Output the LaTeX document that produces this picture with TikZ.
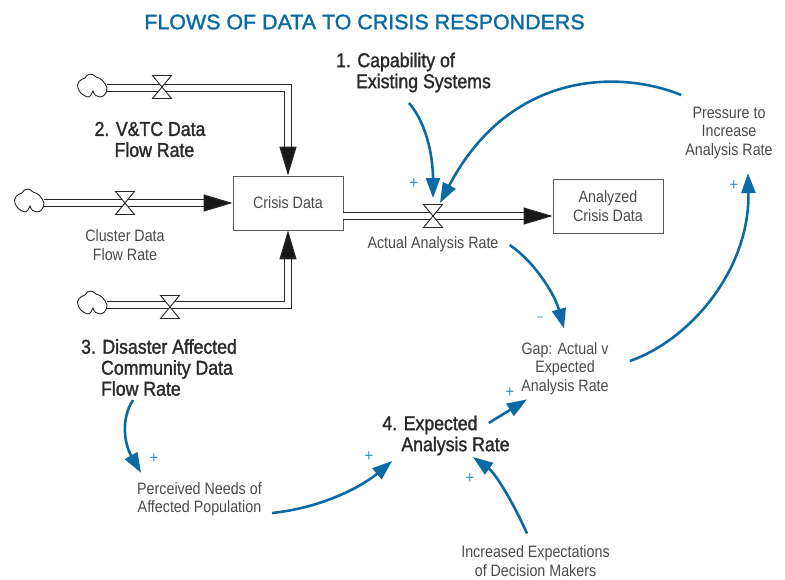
\documentclass[tikz,border=0pt]{standalone}
\usepackage{fontspec}
\setmainfont{Liberation Sans}
\newfontfamily\lightfont[FakeStretch=0.865]{Liberation Sans}
\newfontfamily\headfont[FakeStretch=0.885,FakeBold=1.5]{Liberation Sans}
\newfontfamily\titlefont[FakeStretch=1.02,FakeBold=1.5]{Liberation Sans}
\usepackage{xcolor}
\usetikzlibrary{arrows.meta, positioning}
\definecolor{linkblue}{HTML}{0A6AA1}
\definecolor{plusblue}{HTML}{3F8FBF}
\definecolor{softgray}{HTML}{4A4A4C}
\definecolor{headgray}{HTML}{2A2A2C}

\begin{document}
\begin{tikzpicture}[x=1pt, y=-1pt,
        label/.style={align=center, inner sep=0pt, text=softgray, font=\lightfont\fontsize{16.5}{18.5}\selectfont},
        head/.style={align=left, inner sep=0pt, text=headgray, font=\headfont\fontsize{20}{21}\selectfont},
        stock/.style={draw=black!65, line width=0.8pt, align=center, inner sep=0pt, text=softgray, font=\lightfont\fontsize{16.5}{18.5}\selectfont},
        sign/.style={inner sep=0pt, text=plusblue, font=\lightfont\fontsize{17}{17}\selectfont},
        pipe/.style={draw=black!85, line width=1.1pt, double=white, double distance=5.5pt, -{Triangle[length=29pt, width=17pt, fill=black!90]}},
        link/.style={draw=linkblue, line width=2.6pt, -{Triangle[length=20pt, width=14pt]}},
        valve/.pic={\draw[black!85, fill=white, line width=0.9pt] (-9.5, -11.5) -- (9.5, -11.5) -- (-9.5, 11.5) -- (9.5, 11.5) -- cycle;},
        puff/.pic={\draw[black!85, fill=white, line width=0.9pt] (0, 0)
            .. controls (-2, -6) and (-6, -10) .. (-11, -11)
            .. controls (-14, -15) and (-20, -15) .. (-22, -10)
            .. controls (-27, -9) and (-31, -4) .. (-29, 0)
            .. controls (-28, 4) and (-24, 8) .. (-19, 9)
            .. controls (-17, 9) and (-15, 6) .. (-14, 3)
            .. controls (-13, 7) and (-10, 9) .. (-7, 9)
            .. controls (-4, 9) and (0, 6) .. (0, 0) -- cycle;}]
    \useasboundingbox (0, 0) rectangle (785, 579);

    \node[inner sep=0pt, text=linkblue, font=\titlefont\fontsize{21}{24}\selectfont] (title) at (364.5, 22) {FLOWS OF DATA TO CRISIS RESPONDERS};

    \node[stock, minimum width=110pt, minimum height=54pt] (crisis) at (288, 203) {Crisis Data};
    \node[stock, minimum width=110pt, minimum height=54pt] (analyzed) at (608, 206) {Analyzed\\Crisis Data};

    \coordinate (puffVtc) at (107, 88);
    \coordinate (puffCluster) at (44, 203);
    \coordinate (puffCommunity) at (107, 305);
    \coordinate (valveVtc) at (162, 87);
    \coordinate (valveCluster) at (125, 203);
    \coordinate (valveCommunity) at (170, 307);
    \coordinate (valveAnalysis) at (433, 216);

    \draw[pipe] (puffVtc) -| (crisis.north);
    \draw[pipe] (puffCluster) -- (crisis.west);
    \draw[pipe] (puffCommunity) -| (crisis.south);
    \draw[pipe] (crisis.east |- valveAnalysis) -- (analyzed.west |- valveAnalysis);

    \pic at (puffVtc) {puff};
    \pic at (puffCluster) {puff};
    \pic at (puffCommunity) {puff};
    \pic at (valveVtc) {valve};
    \pic at (valveCluster) {valve};
    \pic at (valveCommunity) {valve};
    \pic at (valveAnalysis) {valve};

    \node[head] (capability) at (413.5, 72.5) {1. Capability of\\\hspace*{20pt}Existing Systems};
    \node[head] (vtc) at (150, 139.5) {2. V\&TC Data\\\hspace*{20pt}Flow Rate};
    \node[head] (community) at (159, 367.5) {3. Disaster Affected\\\hspace*{20pt}Community Data\\\hspace*{20pt}Flow Rate};
    \node[head] (expected) at (446, 435.5) {4. Expected\\\hspace*{19pt}Analysis Rate};

    \node[label] (cluster) at (125, 245) {Cluster Data\\Flow Rate};
    \node[label] (actual) at (433, 244) {Actual Analysis Rate};
    \node[label] (gap) at (565, 368.5) {Gap: Actual v\\Expected\\Analysis Rate};
    \node[label] (pressure) at (729, 133) {Pressure to\\Increase\\Analysis Rate};
    \node[label] (perceived) at (199.5, 499) {Perceived Needs of\\Affected Population};
    \node[label] (decision) at (535.5, 561) {Increased Expectations\\of Decision Makers};

    \draw[link] ([xshift=-4.5pt, yshift=-10.5pt]capability.south) .. controls (428, 125) and (433, 160) .. ([yshift=18pt]valveAnalysis);
    \draw[link] ([xshift=-4pt, yshift=38pt]pressure.west) .. controls (620, 70) and (510, 70) .. ([xshift=7pt, yshift=13pt]valveAnalysis);
    \draw[link] ([xshift=11pt, yshift=-1pt]actual.east) .. controls (535, 262) and (555, 295) .. ([xshift=-1pt, yshift=13.5pt]gap.north);
    \draw[link] ([xshift=21pt, yshift=7.5pt]gap.east) .. controls (690, 340) and (750, 270) .. ([xshift=19pt, yshift=-14pt]pressure.south);
    \draw[link] ([xshift=-21pt, yshift=12.5pt]expected.east) -- ([xshift=-38pt, yshift=-4.5pt]gap.south);
    \draw[link] ([xshift=-26pt, yshift=-4pt]community.south) .. controls (120, 420) and (125, 445) .. ([xshift=4pt, yshift=9pt]perceived.north west);
    \draw[link] ([xshift=10pt, yshift=-14pt]perceived.east) .. controls (320, 508) and (360, 488) .. ([xshift=10pt, yshift=-5.5pt]expected.south west);
    \draw[link] ([xshift=-8.5pt, yshift=12pt]decision.north) .. controls (512, 500) and (495, 473) .. ([xshift=27pt, yshift=-1.5pt]expected.south);

    \node[sign] (plusValve) at (414, 184) {+};
    \node[sign] (plusPressure) at (734, 186) {+};
    \node[sign] (plusGap) at (510, 393) {+};
    \node[sign] (plusPerceived) at (154, 459) {+};
    \node[sign] (plusExpected) at (369, 457) {+};
    \node[sign] (plusDecision) at (470, 479) {+};
    \node[sign, scale=0.7] (minusGap) at (540, 319) {–};
\end{tikzpicture}
\end{document}
